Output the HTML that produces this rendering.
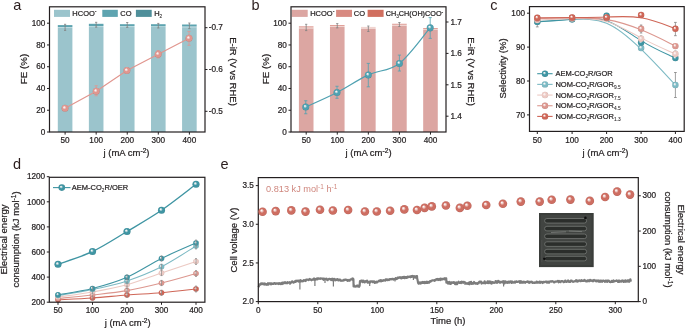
<!DOCTYPE html>
<html><head><meta charset="utf-8"><title>Figure</title>
<style>html,body{margin:0;padding:0;background:#fff;width:685px;height:328px;overflow:hidden}svg{display:block;will-change:transform}text{font-family:"Liberation Sans",sans-serif}</style>
</head><body>
<svg width="685" height="328" viewBox="0 0 685 328" font-family='"Liberation Sans", sans-serif'><defs><radialGradient id="g_td" cx="0.5" cy="0.5" r="0.5" fx="0.36" fy="0.33" fr="0"><stop offset="0" stop-color="#ffffff"/><stop offset="0.1" stop-color="#fbf3f2"/><stop offset="0.28" stop-color="#a8cfd5"/><stop offset="0.5" stop-color="#3f95a3"/><stop offset="0.85" stop-color="#3f95a3"/><stop offset="1" stop-color="#37838f"/></radialGradient><radialGradient id="g_tl" cx="0.5" cy="0.5" r="0.5" fx="0.36" fy="0.33" fr="0"><stop offset="0" stop-color="#ffffff"/><stop offset="0.1" stop-color="#fbf3f2"/><stop offset="0.28" stop-color="#c4dfe4"/><stop offset="0.5" stop-color="#7dbac4"/><stop offset="0.85" stop-color="#7dbac4"/><stop offset="1" stop-color="#6ea3ac"/></radialGradient><radialGradient id="g_pl" cx="0.5" cy="0.5" r="0.5" fx="0.36" fy="0.33" fr="0"><stop offset="0" stop-color="#ffffff"/><stop offset="0.1" stop-color="#fbf3f2"/><stop offset="0.28" stop-color="#f6e6e4"/><stop offset="0.5" stop-color="#ecc9c3"/><stop offset="0.85" stop-color="#ecc9c3"/><stop offset="1" stop-color="#cfb0ab"/></radialGradient><radialGradient id="g_pm" cx="0.5" cy="0.5" r="0.5" fx="0.36" fy="0.33" fr="0"><stop offset="0" stop-color="#ffffff"/><stop offset="0.1" stop-color="#fbf3f2"/><stop offset="0.28" stop-color="#efd0cc"/><stop offset="0.5" stop-color="#dc978f"/><stop offset="0.85" stop-color="#dc978f"/><stop offset="1" stop-color="#c1847d"/></radialGradient><radialGradient id="g_rd" cx="0.5" cy="0.5" r="0.5" fx="0.36" fy="0.33" fr="0"><stop offset="0" stop-color="#ffffff"/><stop offset="0.1" stop-color="#fbf3f2"/><stop offset="0.28" stop-color="#e9bab3"/><stop offset="0.5" stop-color="#cf6657"/><stop offset="0.85" stop-color="#cf6657"/><stop offset="1" stop-color="#b6594c"/></radialGradient><radialGradient id="g_sa" cx="0.5" cy="0.5" r="0.5" fx="0.36" fy="0.33" fr="0"><stop offset="0" stop-color="#ffffff"/><stop offset="0.1" stop-color="#fbf3f2"/><stop offset="0.28" stop-color="#f1cfcc"/><stop offset="0.5" stop-color="#e1968f"/><stop offset="0.85" stop-color="#e1968f"/><stop offset="1" stop-color="#c6847d"/></radialGradient><radialGradient id="g_tb" cx="0.5" cy="0.5" r="0.5" fx="0.36" fy="0.33" fr="0"><stop offset="0" stop-color="#ffffff"/><stop offset="0.1" stop-color="#fbf3f2"/><stop offset="0.28" stop-color="#afd4db"/><stop offset="0.5" stop-color="#4fa1b1"/><stop offset="0.85" stop-color="#4fa1b1"/><stop offset="1" stop-color="#458d9b"/></radialGradient><radialGradient id="g_er" cx="0.5" cy="0.5" r="0.5" fx="0.36" fy="0.33" fr="0"><stop offset="0" stop-color="#ffffff"/><stop offset="0.1" stop-color="#fbf3f2"/><stop offset="0.28" stop-color="#e8bdb8"/><stop offset="0.5" stop-color="#ce6e62"/><stop offset="0.85" stop-color="#ce6e62"/><stop offset="1" stop-color="#b56056"/></radialGradient></defs>
<rect x="57.8" y="27.8" width="14.6" height="104.2" fill="#9bc4cc" />
<rect x="57.8" y="26.9" width="14.6" height="1" fill="#b9d8dd" />
<rect x="57.8" y="25.1" width="14.6" height="1.9" fill="#5ea4b0" />
<rect x="88.87" y="27" width="14.6" height="105" fill="#9bc4cc" />
<rect x="88.87" y="25.9" width="14.6" height="1.2" fill="#b9d8dd" />
<rect x="88.87" y="23.8" width="14.6" height="2.2" fill="#5ea4b0" />
<rect x="119.94" y="27" width="14.6" height="105" fill="#9bc4cc" />
<rect x="119.94" y="25.9" width="14.6" height="1.2" fill="#b9d8dd" />
<rect x="119.94" y="24.2" width="14.6" height="1.8" fill="#5ea4b0" />
<rect x="151.01" y="26.9" width="14.6" height="105.1" fill="#9bc4cc" />
<rect x="151.01" y="26" width="14.6" height="1" fill="#b9d8dd" />
<rect x="151.01" y="24.2" width="14.6" height="1.9" fill="#5ea4b0" />
<rect x="182.08" y="27.2" width="14.6" height="104.8" fill="#9bc4cc" />
<rect x="182.08" y="26.3" width="14.6" height="1" fill="#b9d8dd" />
<rect x="182.08" y="24.5" width="14.6" height="1.9" fill="#5ea4b0" />
<line x1="65.1" y1="24.3" x2="65.1" y2="30.4" stroke="#808080" stroke-width="0.8" />
<line x1="64" y1="24.3" x2="66.2" y2="24.3" stroke="#808080" stroke-width="0.8" />
<line x1="64" y1="30.4" x2="66.2" y2="30.4" stroke="#808080" stroke-width="0.8" />
<line x1="96.17" y1="22.3" x2="96.17" y2="27.2" stroke="#808080" stroke-width="0.8" />
<line x1="95.07" y1="22.3" x2="97.27" y2="22.3" stroke="#808080" stroke-width="0.8" />
<line x1="95.07" y1="27.2" x2="97.27" y2="27.2" stroke="#808080" stroke-width="0.8" />
<line x1="127.24" y1="22.5" x2="127.24" y2="27.4" stroke="#808080" stroke-width="0.8" />
<line x1="126.14" y1="22.5" x2="128.34" y2="22.5" stroke="#808080" stroke-width="0.8" />
<line x1="126.14" y1="27.4" x2="128.34" y2="27.4" stroke="#808080" stroke-width="0.8" />
<line x1="158.31" y1="23.4" x2="158.31" y2="28" stroke="#808080" stroke-width="0.8" />
<line x1="157.21" y1="23.4" x2="159.41" y2="23.4" stroke="#808080" stroke-width="0.8" />
<line x1="157.21" y1="28" x2="159.41" y2="28" stroke="#808080" stroke-width="0.8" />
<line x1="189.38" y1="23" x2="189.38" y2="28.6" stroke="#808080" stroke-width="0.8" />
<line x1="188.28" y1="23" x2="190.48" y2="23" stroke="#808080" stroke-width="0.8" />
<line x1="188.28" y1="28.6" x2="190.48" y2="28.6" stroke="#808080" stroke-width="0.8" />
<rect x="54" y="9.8" width="16" height="7.1" fill="#9bc4cc" />
<text x="72.3" y="16.4" font-size="7.5" text-anchor="start" fill="#231f20" stroke="#231f20" stroke-width="0.22" >HCOO<tspan font-size="5.25" baseline-shift="2.55">-</tspan></text>
<rect x="102.3" y="9.8" width="15.5" height="7.1" fill="#5ea4b0" />
<text x="120.3" y="16.4" font-size="7.5" text-anchor="start" fill="#231f20" stroke="#231f20" stroke-width="0.22" >CO</text>
<rect x="135.9" y="9.8" width="15.8" height="7.1" fill="#4f8f9a" />
<text x="154.2" y="16.4" font-size="7.5" text-anchor="start" fill="#231f20" stroke="#231f20" stroke-width="0.22" >H<tspan font-size="4.80" baseline-shift="-1.95" stroke-width="0.08">2</tspan></text>
<path d="M65,108.25 L96.2,91.25 L126.9,70.5 L158.2,54.25 L189,38.3" fill="none" stroke="#e1968f" stroke-width="1.2" />
<line x1="65" y1="106.5" x2="65" y2="110" stroke="#e1968f" stroke-width="0.8" />
<line x1="63.4" y1="106.5" x2="66.6" y2="106.5" stroke="#e1968f" stroke-width="0.8" />
<line x1="63.4" y1="110" x2="66.6" y2="110" stroke="#e1968f" stroke-width="0.8" />
<line x1="96.2" y1="85.75" x2="96.2" y2="95.75" stroke="#e1968f" stroke-width="0.8" />
<line x1="94.6" y1="85.75" x2="97.8" y2="85.75" stroke="#e1968f" stroke-width="0.8" />
<line x1="94.6" y1="95.75" x2="97.8" y2="95.75" stroke="#e1968f" stroke-width="0.8" />
<line x1="126.9" y1="68.8" x2="126.9" y2="72.2" stroke="#e1968f" stroke-width="0.8" />
<line x1="125.3" y1="68.8" x2="128.5" y2="68.8" stroke="#e1968f" stroke-width="0.8" />
<line x1="125.3" y1="72.2" x2="128.5" y2="72.2" stroke="#e1968f" stroke-width="0.8" />
<line x1="158.2" y1="50.6" x2="158.2" y2="57.9" stroke="#e1968f" stroke-width="0.8" />
<line x1="156.6" y1="50.6" x2="159.8" y2="50.6" stroke="#e1968f" stroke-width="0.8" />
<line x1="156.6" y1="57.9" x2="159.8" y2="57.9" stroke="#e1968f" stroke-width="0.8" />
<line x1="189" y1="31.4" x2="189" y2="45.3" stroke="#e1968f" stroke-width="0.8" />
<line x1="187.4" y1="31.4" x2="190.6" y2="31.4" stroke="#e1968f" stroke-width="0.8" />
<line x1="187.4" y1="45.3" x2="190.6" y2="45.3" stroke="#e1968f" stroke-width="0.8" />
<circle cx="65" cy="108.25" r="3.5" fill="url(#g_sa)"/>
<circle cx="96.2" cy="91.25" r="3.5" fill="url(#g_sa)"/>
<circle cx="126.9" cy="70.5" r="3.5" fill="url(#g_sa)"/>
<circle cx="158.2" cy="54.25" r="3.5" fill="url(#g_sa)"/>
<circle cx="189" cy="38.3" r="3.5" fill="url(#g_sa)"/>
<rect x="49.5" y="6.8" width="155.5" height="125.2" fill="none" stroke="#231f20" stroke-width="1.2"/>
<line x1="47" y1="132" x2="49.5" y2="132" stroke="#231f20" stroke-width="1" />
<text x="45.3" y="134.7" font-size="8.2" text-anchor="end" fill="#231f20" stroke="#231f20" stroke-width="0.22" >0</text>
<line x1="47" y1="110.24" x2="49.5" y2="110.24" stroke="#231f20" stroke-width="1" />
<text x="45.3" y="112.94" font-size="8.2" text-anchor="end" fill="#231f20" stroke="#231f20" stroke-width="0.22" >20</text>
<line x1="47" y1="88.48" x2="49.5" y2="88.48" stroke="#231f20" stroke-width="1" />
<text x="45.3" y="91.18" font-size="8.2" text-anchor="end" fill="#231f20" stroke="#231f20" stroke-width="0.22" >40</text>
<line x1="47" y1="66.72" x2="49.5" y2="66.72" stroke="#231f20" stroke-width="1" />
<text x="45.3" y="69.42" font-size="8.2" text-anchor="end" fill="#231f20" stroke="#231f20" stroke-width="0.22" >60</text>
<line x1="47" y1="44.96" x2="49.5" y2="44.96" stroke="#231f20" stroke-width="1" />
<text x="45.3" y="47.66" font-size="8.2" text-anchor="end" fill="#231f20" stroke="#231f20" stroke-width="0.22" >80</text>
<line x1="47" y1="23.2" x2="49.5" y2="23.2" stroke="#231f20" stroke-width="1" />
<text x="45.3" y="25.9" font-size="8.2" text-anchor="end" fill="#231f20" stroke="#231f20" stroke-width="0.22" >100</text>
<line x1="205" y1="111.3" x2="207.5" y2="111.3" stroke="#231f20" stroke-width="1" />
<text x="208.8" y="114" font-size="8.2" text-anchor="start" fill="#231f20" stroke="#231f20" stroke-width="0.22" >-0.5</text>
<line x1="205" y1="69.5" x2="207.5" y2="69.5" stroke="#231f20" stroke-width="1" />
<text x="208.8" y="72.2" font-size="8.2" text-anchor="start" fill="#231f20" stroke="#231f20" stroke-width="0.22" >-0.6</text>
<line x1="205" y1="27.7" x2="207.5" y2="27.7" stroke="#231f20" stroke-width="1" />
<text x="208.8" y="30.4" font-size="8.2" text-anchor="start" fill="#231f20" stroke="#231f20" stroke-width="0.22" >-0.7</text>
<line x1="65.1" y1="132" x2="65.1" y2="134.6" stroke="#231f20" stroke-width="1" />
<text x="65.1" y="142.8" font-size="8.2" text-anchor="middle" fill="#231f20" stroke="#231f20" stroke-width="0.22" >50</text>
<line x1="96.17" y1="132" x2="96.17" y2="134.6" stroke="#231f20" stroke-width="1" />
<text x="96.17" y="142.8" font-size="8.2" text-anchor="middle" fill="#231f20" stroke="#231f20" stroke-width="0.22" >100</text>
<line x1="127.24" y1="132" x2="127.24" y2="134.6" stroke="#231f20" stroke-width="1" />
<text x="127.24" y="142.8" font-size="8.2" text-anchor="middle" fill="#231f20" stroke="#231f20" stroke-width="0.22" >200</text>
<line x1="158.31" y1="132" x2="158.31" y2="134.6" stroke="#231f20" stroke-width="1" />
<text x="158.31" y="142.8" font-size="8.2" text-anchor="middle" fill="#231f20" stroke="#231f20" stroke-width="0.22" >300</text>
<line x1="189.38" y1="132" x2="189.38" y2="134.6" stroke="#231f20" stroke-width="1" />
<text x="189.38" y="142.8" font-size="8.2" text-anchor="middle" fill="#231f20" stroke="#231f20" stroke-width="0.22" >400</text>
<text x="126.5" y="155.5" font-size="9.5" text-anchor="middle" fill="#231f20" stroke="#231f20" stroke-width="0.22" >j (mA cm<tspan font-size="6.65" baseline-shift="3.23">-2</tspan>)</text>
<text x="26.6" y="69" font-size="9.8" text-anchor="middle" fill="#231f20" stroke="#231f20" stroke-width="0.22" transform="rotate(-90 26.6 69)" >FE (%)</text>
<text x="229.8" y="71.5" font-size="9.5" text-anchor="middle" fill="#231f20" stroke="#231f20" stroke-width="0.22" transform="rotate(90 229.8 71.5)" >E-iR (V vs RHE)</text>
<text x="13.2" y="10" font-size="14.5" text-anchor="start" fill="#2a1d1d" stroke="#2a1d1d" stroke-width="0" >a</text>
<rect x="298.9" y="28.3" width="14.6" height="103.7" fill="#dca6a2" />
<rect x="298.9" y="27.2" width="14.6" height="1.2" fill="#f0d4d0" />
<rect x="298.9" y="26.4" width="14.6" height="0.9" fill="#d98a81" />
<rect x="329.97" y="26.9" width="14.6" height="105.1" fill="#dca6a2" />
<rect x="329.97" y="25.9" width="14.6" height="1.1" fill="#f0d4d0" />
<rect x="329.97" y="25.2" width="14.6" height="0.8" fill="#d98a81" />
<rect x="361.04" y="28.9" width="14.6" height="103.1" fill="#dca6a2" />
<rect x="361.04" y="26.9" width="14.6" height="2.1" fill="#f0d4d0" />
<rect x="392.11" y="25.9" width="14.6" height="106.1" fill="#dca6a2" />
<rect x="392.11" y="24.5" width="14.6" height="1.5" fill="#f0d4d0" />
<rect x="392.11" y="23.8" width="14.6" height="0.8" fill="#d98a81" />
<rect x="423.18" y="29.9" width="14.6" height="102.1" fill="#dca6a2" />
<rect x="423.18" y="28.9" width="14.6" height="1.1" fill="#f0d4d0" />
<rect x="423.18" y="28.2" width="14.6" height="0.8" fill="#d98a81" />
<line x1="306.2" y1="24.3" x2="306.2" y2="30.6" stroke="#808080" stroke-width="0.8" />
<line x1="305.1" y1="24.3" x2="307.3" y2="24.3" stroke="#808080" stroke-width="0.8" />
<line x1="305.1" y1="30.6" x2="307.3" y2="30.6" stroke="#808080" stroke-width="0.8" />
<line x1="337.27" y1="23.6" x2="337.27" y2="27.9" stroke="#808080" stroke-width="0.8" />
<line x1="336.17" y1="23.6" x2="338.37" y2="23.6" stroke="#808080" stroke-width="0.8" />
<line x1="336.17" y1="27.9" x2="338.37" y2="27.9" stroke="#808080" stroke-width="0.8" />
<line x1="368.34" y1="26" x2="368.34" y2="31.5" stroke="#808080" stroke-width="0.8" />
<line x1="367.24" y1="26" x2="369.44" y2="26" stroke="#808080" stroke-width="0.8" />
<line x1="367.24" y1="31.5" x2="369.44" y2="31.5" stroke="#808080" stroke-width="0.8" />
<line x1="399.41" y1="22.5" x2="399.41" y2="26.5" stroke="#808080" stroke-width="0.8" />
<line x1="398.31" y1="22.5" x2="400.51" y2="22.5" stroke="#808080" stroke-width="0.8" />
<line x1="398.31" y1="26.5" x2="400.51" y2="26.5" stroke="#808080" stroke-width="0.8" />
<line x1="430.48" y1="27" x2="430.48" y2="31" stroke="#808080" stroke-width="0.8" />
<line x1="429.38" y1="27" x2="431.58" y2="27" stroke="#808080" stroke-width="0.8" />
<line x1="429.38" y1="31" x2="431.58" y2="31" stroke="#808080" stroke-width="0.8" />
<rect x="291.8" y="9.8" width="15.9" height="7.1" fill="#dca6a2" />
<text x="310.2" y="16.4" font-size="7.5" text-anchor="start" fill="#231f20" stroke="#231f20" stroke-width="0.22" >HCOO<tspan font-size="5.25" baseline-shift="2.55">-</tspan></text>
<rect x="336.1" y="9.8" width="15.9" height="7.1" fill="#d88a81" />
<text x="353.8" y="16.4" font-size="7.5" text-anchor="start" fill="#231f20" stroke="#231f20" stroke-width="0.22" >CO</text>
<rect x="367.6" y="9.8" width="16" height="7.1" fill="#d16f5f" />
<text x="385.8" y="16.4" font-size="7.25" text-anchor="start" fill="#231f20" stroke="#231f20" stroke-width="0.22" >CH<tspan font-size="4.64" baseline-shift="-1.89" stroke-width="0.08">3</tspan>CH(OH)COO<tspan font-size="5.07" baseline-shift="2.47">-</tspan></text>
<path d="M305.75,107 C310.96,104.58 326.57,97.85 337,92.5 C347.43,87.15 357.9,79.75 368.3,74.9 C378.7,70.05 389.08,71.27 399.4,63.4 C409.72,55.53 425.07,33.65 430.2,27.7" fill="none" stroke="#4fa1b1" stroke-width="1.2" />
<line x1="305.75" y1="100.75" x2="305.75" y2="113.75" stroke="#4fa1b1" stroke-width="0.8" />
<line x1="304.15" y1="100.75" x2="307.35" y2="100.75" stroke="#4fa1b1" stroke-width="0.8" />
<line x1="304.15" y1="113.75" x2="307.35" y2="113.75" stroke="#4fa1b1" stroke-width="0.8" />
<line x1="337" y1="86.25" x2="337" y2="98.25" stroke="#4fa1b1" stroke-width="0.8" />
<line x1="335.4" y1="86.25" x2="338.6" y2="86.25" stroke="#4fa1b1" stroke-width="0.8" />
<line x1="335.4" y1="98.25" x2="338.6" y2="98.25" stroke="#4fa1b1" stroke-width="0.8" />
<line x1="368.3" y1="63.4" x2="368.3" y2="86.8" stroke="#4fa1b1" stroke-width="0.8" />
<line x1="366.7" y1="63.4" x2="369.9" y2="63.4" stroke="#4fa1b1" stroke-width="0.8" />
<line x1="366.7" y1="86.8" x2="369.9" y2="86.8" stroke="#4fa1b1" stroke-width="0.8" />
<line x1="399.4" y1="55.1" x2="399.4" y2="71" stroke="#4fa1b1" stroke-width="0.8" />
<line x1="397.8" y1="55.1" x2="401" y2="55.1" stroke="#4fa1b1" stroke-width="0.8" />
<line x1="397.8" y1="71" x2="401" y2="71" stroke="#4fa1b1" stroke-width="0.8" />
<line x1="430.2" y1="17.6" x2="430.2" y2="38.4" stroke="#4fa1b1" stroke-width="0.8" />
<line x1="428.6" y1="17.6" x2="431.8" y2="17.6" stroke="#4fa1b1" stroke-width="0.8" />
<line x1="428.6" y1="38.4" x2="431.8" y2="38.4" stroke="#4fa1b1" stroke-width="0.8" />
<circle cx="305.75" cy="107" r="3.5" fill="url(#g_tb)"/>
<circle cx="337" cy="92.5" r="3.5" fill="url(#g_tb)"/>
<circle cx="368.3" cy="74.9" r="3.5" fill="url(#g_tb)"/>
<circle cx="399.4" cy="63.4" r="3.5" fill="url(#g_tb)"/>
<circle cx="430.2" cy="27.7" r="3.5" fill="url(#g_tb)"/>
<rect x="291" y="6.8" width="155" height="125.2" fill="none" stroke="#231f20" stroke-width="1.2"/>
<line x1="288.5" y1="132" x2="291" y2="132" stroke="#231f20" stroke-width="1" />
<text x="286.8" y="134.7" font-size="8.2" text-anchor="end" fill="#231f20" stroke="#231f20" stroke-width="0.22" >0</text>
<line x1="288.5" y1="110.24" x2="291" y2="110.24" stroke="#231f20" stroke-width="1" />
<text x="286.8" y="112.94" font-size="8.2" text-anchor="end" fill="#231f20" stroke="#231f20" stroke-width="0.22" >20</text>
<line x1="288.5" y1="88.48" x2="291" y2="88.48" stroke="#231f20" stroke-width="1" />
<text x="286.8" y="91.18" font-size="8.2" text-anchor="end" fill="#231f20" stroke="#231f20" stroke-width="0.22" >40</text>
<line x1="288.5" y1="66.72" x2="291" y2="66.72" stroke="#231f20" stroke-width="1" />
<text x="286.8" y="69.42" font-size="8.2" text-anchor="end" fill="#231f20" stroke="#231f20" stroke-width="0.22" >60</text>
<line x1="288.5" y1="44.96" x2="291" y2="44.96" stroke="#231f20" stroke-width="1" />
<text x="286.8" y="47.66" font-size="8.2" text-anchor="end" fill="#231f20" stroke="#231f20" stroke-width="0.22" >80</text>
<line x1="288.5" y1="23.2" x2="291" y2="23.2" stroke="#231f20" stroke-width="1" />
<text x="286.8" y="25.9" font-size="8.2" text-anchor="end" fill="#231f20" stroke="#231f20" stroke-width="0.22" >100</text>
<line x1="446" y1="116.2" x2="448.5" y2="116.2" stroke="#231f20" stroke-width="1" />
<text x="450.4" y="118.9" font-size="8.2" text-anchor="start" fill="#231f20" stroke="#231f20" stroke-width="0.22" >1.4</text>
<line x1="446" y1="84.8" x2="448.5" y2="84.8" stroke="#231f20" stroke-width="1" />
<text x="450.4" y="87.5" font-size="8.2" text-anchor="start" fill="#231f20" stroke="#231f20" stroke-width="0.22" >1.5</text>
<line x1="446" y1="53.4" x2="448.5" y2="53.4" stroke="#231f20" stroke-width="1" />
<text x="450.4" y="56.1" font-size="8.2" text-anchor="start" fill="#231f20" stroke="#231f20" stroke-width="0.22" >1.6</text>
<line x1="446" y1="22" x2="448.5" y2="22" stroke="#231f20" stroke-width="1" />
<text x="450.4" y="24.7" font-size="8.2" text-anchor="start" fill="#231f20" stroke="#231f20" stroke-width="0.22" >1.7</text>
<line x1="306.2" y1="132" x2="306.2" y2="134.6" stroke="#231f20" stroke-width="1" />
<text x="306.2" y="142.8" font-size="8.2" text-anchor="middle" fill="#231f20" stroke="#231f20" stroke-width="0.22" >50</text>
<line x1="337.27" y1="132" x2="337.27" y2="134.6" stroke="#231f20" stroke-width="1" />
<text x="337.27" y="142.8" font-size="8.2" text-anchor="middle" fill="#231f20" stroke="#231f20" stroke-width="0.22" >100</text>
<line x1="368.34" y1="132" x2="368.34" y2="134.6" stroke="#231f20" stroke-width="1" />
<text x="368.34" y="142.8" font-size="8.2" text-anchor="middle" fill="#231f20" stroke="#231f20" stroke-width="0.22" >200</text>
<line x1="399.41" y1="132" x2="399.41" y2="134.6" stroke="#231f20" stroke-width="1" />
<text x="399.41" y="142.8" font-size="8.2" text-anchor="middle" fill="#231f20" stroke="#231f20" stroke-width="0.22" >300</text>
<line x1="430.48" y1="132" x2="430.48" y2="134.6" stroke="#231f20" stroke-width="1" />
<text x="430.48" y="142.8" font-size="8.2" text-anchor="middle" fill="#231f20" stroke="#231f20" stroke-width="0.22" >400</text>
<text x="368.6" y="155.5" font-size="9.5" text-anchor="middle" fill="#231f20" stroke="#231f20" stroke-width="0.22" >j (mA cm<tspan font-size="6.65" baseline-shift="3.23">-2</tspan>)</text>
<text x="268.8" y="69" font-size="9.8" text-anchor="middle" fill="#231f20" stroke="#231f20" stroke-width="0.22" transform="rotate(-90 268.8 69)" >FE (%)</text>
<text x="467.8" y="71.5" font-size="9.5" text-anchor="middle" fill="#231f20" stroke="#231f20" stroke-width="0.22" transform="rotate(90 467.8 71.5)" >E-iR (V vs RHE)</text>
<text x="251.6" y="10" font-size="14.5" text-anchor="start" fill="#2a1d1d" stroke="#2a1d1d" stroke-width="0" >b</text>
<path d="M537.3,21.8 C537.3,21.8 537.3,21.8 543.1,21.38 C548.9,20.97 560.5,20.13 572.05,19.5 C583.6,18.87 595.1,18.43 606.6,23.22 C618.1,28 629.6,38 641.07,49.17 C652.53,60.33 663.97,72.67 669.68,78.83 C675.4,85 675.4,85 675.4,85" fill="none" stroke="#7dbac4" stroke-width="1.1" />
<path d="M537.3,21.8 C537.3,21.8 537.3,21.8 543.1,21.38 C548.9,20.97 560.5,20.13 572.05,19.1 C583.6,18.07 595.1,16.83 606.6,20.7 C618.1,24.57 629.6,33.53 641.07,40.6 C652.53,47.67 663.97,52.83 669.68,55.42 C675.4,58 675.4,58 675.4,58" fill="none" stroke="#3f95a3" stroke-width="1.1" />
<path d="M537.3,20 C537.3,20 537.3,20 543.1,19.75 C548.9,19.5 560.5,19 572.05,18.67 C583.6,18.33 595.1,18.17 606.6,21.55 C618.1,24.93 629.6,31.87 641.07,37.87 C652.53,43.87 663.97,48.93 669.68,51.47 C675.4,54 675.4,54 675.4,54" fill="none" stroke="#ecc9c3" stroke-width="1.1" />
<path d="M537.3,18.5 C537.3,18.5 537.3,18.5 543.1,18.38 C548.9,18.27 560.5,18.03 572.05,17.92 C583.6,17.8 595.1,17.8 606.6,19.63 C618.1,21.47 629.6,25.13 641.07,29.85 C652.53,34.57 663.97,40.33 669.68,43.22 C675.4,46.1 675.4,46.1 675.4,46.1" fill="none" stroke="#dc978f" stroke-width="1.1" />
<path d="M537.3,17.8 C537.3,17.8 537.3,17.8 543.1,17.73 C548.9,17.67 560.5,17.53 572.05,17.47 C583.6,17.4 595.1,17.4 606.6,17 C618.1,16.6 629.6,15.8 641.07,17.7 C652.53,19.6 663.97,24.2 669.68,26.5 C675.4,28.8 675.4,28.8 675.4,28.8" fill="none" stroke="#cf6657" stroke-width="1.1" />
<line x1="537.3" y1="16.8" x2="537.3" y2="26.9" stroke="#777" stroke-width="0.7" />
<line x1="535.9" y1="16.8" x2="538.7" y2="16.8" stroke="#777" stroke-width="0.7" />
<line x1="535.9" y1="26.9" x2="538.7" y2="26.9" stroke="#777" stroke-width="0.7" />
<line x1="675.4" y1="72.5" x2="675.4" y2="97.5" stroke="#777" stroke-width="0.7" />
<line x1="674" y1="72.5" x2="676.8" y2="72.5" stroke="#777" stroke-width="0.7" />
<line x1="674" y1="97.5" x2="676.8" y2="97.5" stroke="#777" stroke-width="0.7" />
<line x1="675.4" y1="22.4" x2="675.4" y2="35.7" stroke="#777" stroke-width="0.7" />
<line x1="674" y1="22.4" x2="676.8" y2="22.4" stroke="#777" stroke-width="0.7" />
<line x1="674" y1="35.7" x2="676.8" y2="35.7" stroke="#777" stroke-width="0.7" />
<line x1="641.1" y1="25" x2="641.1" y2="33" stroke="#777" stroke-width="0.7" />
<line x1="639.9" y1="25" x2="642.3" y2="25" stroke="#777" stroke-width="0.7" />
<line x1="639.9" y1="33" x2="642.3" y2="33" stroke="#777" stroke-width="0.7" />
<line x1="641.1" y1="36" x2="641.1" y2="45" stroke="#777" stroke-width="0.7" />
<line x1="639.9" y1="36" x2="642.3" y2="36" stroke="#777" stroke-width="0.7" />
<line x1="639.9" y1="45" x2="642.3" y2="45" stroke="#777" stroke-width="0.7" />
<line x1="675.4" y1="51" x2="675.4" y2="57" stroke="#777" stroke-width="0.7" />
<line x1="674.2" y1="51" x2="676.6" y2="51" stroke="#777" stroke-width="0.7" />
<line x1="674.2" y1="57" x2="676.6" y2="57" stroke="#777" stroke-width="0.7" />
<circle cx="537.3" cy="21.8" r="3.2" fill="url(#g_tl)"/>
<circle cx="572.1" cy="19.3" r="3.2" fill="url(#g_tl)"/>
<circle cx="606.6" cy="18" r="3.2" fill="url(#g_tl)"/>
<circle cx="641.1" cy="48" r="3.2" fill="url(#g_tl)"/>
<circle cx="675.4" cy="85" r="3.2" fill="url(#g_tl)"/>
<circle cx="537.3" cy="21.8" r="3.2" fill="url(#g_td)"/>
<circle cx="572.1" cy="19.3" r="3.2" fill="url(#g_td)"/>
<circle cx="606.6" cy="15.6" r="3.2" fill="url(#g_td)"/>
<circle cx="641.1" cy="42.5" r="3.2" fill="url(#g_td)"/>
<circle cx="675.4" cy="58" r="3.2" fill="url(#g_td)"/>
<circle cx="537.3" cy="20" r="3.2" fill="url(#g_pl)"/>
<circle cx="572.1" cy="18.5" r="3.2" fill="url(#g_pl)"/>
<circle cx="606.6" cy="18" r="3.2" fill="url(#g_pl)"/>
<circle cx="641.1" cy="38.8" r="3.2" fill="url(#g_pl)"/>
<circle cx="675.4" cy="54" r="3.2" fill="url(#g_pl)"/>
<circle cx="537.3" cy="18.5" r="3.2" fill="url(#g_pm)"/>
<circle cx="572.1" cy="17.8" r="3.2" fill="url(#g_pm)"/>
<circle cx="606.6" cy="17.8" r="3.2" fill="url(#g_pm)"/>
<circle cx="641.1" cy="28.8" r="3.2" fill="url(#g_pm)"/>
<circle cx="675.4" cy="46.1" r="3.2" fill="url(#g_pm)"/>
<circle cx="537.3" cy="17.8" r="3.2" fill="url(#g_rd)"/>
<circle cx="572.1" cy="17.4" r="3.2" fill="url(#g_rd)"/>
<circle cx="606.6" cy="17.4" r="3.2" fill="url(#g_rd)"/>
<circle cx="641.1" cy="15" r="3.2" fill="url(#g_rd)"/>
<circle cx="675.4" cy="28.8" r="3.2" fill="url(#g_rd)"/>
<rect x="529.5" y="6.6" width="154.7" height="124.8" fill="none" stroke="#231f20" stroke-width="1.2"/>
<line x1="527" y1="114.9" x2="529.5" y2="114.9" stroke="#231f20" stroke-width="1" />
<text x="525" y="117.6" font-size="8.2" text-anchor="end" fill="#231f20" stroke="#231f20" stroke-width="0.22" >70</text>
<line x1="527" y1="81" x2="529.5" y2="81" stroke="#231f20" stroke-width="1" />
<text x="525" y="83.7" font-size="8.2" text-anchor="end" fill="#231f20" stroke="#231f20" stroke-width="0.22" >80</text>
<line x1="527" y1="47.1" x2="529.5" y2="47.1" stroke="#231f20" stroke-width="1" />
<text x="525" y="49.8" font-size="8.2" text-anchor="end" fill="#231f20" stroke="#231f20" stroke-width="0.22" >90</text>
<line x1="527" y1="13.2" x2="529.5" y2="13.2" stroke="#231f20" stroke-width="1" />
<text x="525" y="15.9" font-size="8.2" text-anchor="end" fill="#231f20" stroke="#231f20" stroke-width="0.22" >100</text>
<line x1="537.3" y1="131.4" x2="537.3" y2="134" stroke="#231f20" stroke-width="1" />
<text x="537.3" y="142.5" font-size="8.2" text-anchor="middle" fill="#231f20" stroke="#231f20" stroke-width="0.22" >50</text>
<line x1="572.1" y1="131.4" x2="572.1" y2="134" stroke="#231f20" stroke-width="1" />
<text x="572.1" y="142.5" font-size="8.2" text-anchor="middle" fill="#231f20" stroke="#231f20" stroke-width="0.22" >100</text>
<line x1="606.6" y1="131.4" x2="606.6" y2="134" stroke="#231f20" stroke-width="1" />
<text x="606.6" y="142.5" font-size="8.2" text-anchor="middle" fill="#231f20" stroke="#231f20" stroke-width="0.22" >200</text>
<line x1="641.1" y1="131.4" x2="641.1" y2="134" stroke="#231f20" stroke-width="1" />
<text x="641.1" y="142.5" font-size="8.2" text-anchor="middle" fill="#231f20" stroke="#231f20" stroke-width="0.22" >300</text>
<line x1="675.4" y1="131.4" x2="675.4" y2="134" stroke="#231f20" stroke-width="1" />
<text x="675.4" y="142.5" font-size="8.2" text-anchor="middle" fill="#231f20" stroke="#231f20" stroke-width="0.22" >400</text>
<text x="605.5" y="155.5" font-size="9.5" text-anchor="middle" fill="#231f20" stroke="#231f20" stroke-width="0.22" >j (mA cm<tspan font-size="6.65" baseline-shift="3.23">-2</tspan>)</text>
<text x="506.3" y="68.5" font-size="9.5" text-anchor="middle" fill="#231f20" stroke="#231f20" stroke-width="0.22" transform="rotate(-90 506.3 68.5)" >Selectivity (%)</text>
<text x="490.3" y="10" font-size="14.5" text-anchor="start" fill="#2a1d1d" stroke="#2a1d1d" stroke-width="0" >c</text>
<line x1="537.2" y1="73.7" x2="552.6" y2="73.7" stroke="#3f95a3" stroke-width="1.1" />
<circle cx="545" cy="73.7" r="3.2" fill="url(#g_td)"/>
<text x="555.4" y="76.4" font-size="7.5" text-anchor="start" fill="#231f20" stroke="#231f20" stroke-width="0.22" >AEM-CO<tspan font-size="4.80" baseline-shift="-1.95" stroke-width="0.08">2</tspan>R/GOR</text>
<line x1="537.2" y1="84.38" x2="552.6" y2="84.38" stroke="#7dbac4" stroke-width="1.1" />
<circle cx="545" cy="84.38" r="3.2" fill="url(#g_tl)"/>
<text x="555.4" y="87.08" font-size="7.5" text-anchor="start" fill="#231f20" stroke="#231f20" stroke-width="0.22" >NOM-CO<tspan font-size="4.80" baseline-shift="-1.95" stroke-width="0.08">2</tspan>R/GOR<tspan font-size="4.80" baseline-shift="-1.95" stroke-width="0.08">9.5</tspan></text>
<line x1="537.2" y1="95.06" x2="552.6" y2="95.06" stroke="#ecc9c3" stroke-width="1.1" />
<circle cx="545" cy="95.06" r="3.2" fill="url(#g_pl)"/>
<text x="555.4" y="97.76" font-size="7.5" text-anchor="start" fill="#231f20" stroke="#231f20" stroke-width="0.22" >NOM-CO<tspan font-size="4.80" baseline-shift="-1.95" stroke-width="0.08">2</tspan>R/GOR<tspan font-size="4.80" baseline-shift="-1.95" stroke-width="0.08">7.5</tspan></text>
<line x1="537.2" y1="105.74" x2="552.6" y2="105.74" stroke="#dc978f" stroke-width="1.1" />
<circle cx="545" cy="105.74" r="3.2" fill="url(#g_pm)"/>
<text x="555.4" y="108.44" font-size="7.5" text-anchor="start" fill="#231f20" stroke="#231f20" stroke-width="0.22" >NOM-CO<tspan font-size="4.80" baseline-shift="-1.95" stroke-width="0.08">2</tspan>R/GOR<tspan font-size="4.80" baseline-shift="-1.95" stroke-width="0.08">4.5</tspan></text>
<line x1="537.2" y1="116.42" x2="552.6" y2="116.42" stroke="#cf6657" stroke-width="1.1" />
<circle cx="545" cy="116.42" r="3.2" fill="url(#g_rd)"/>
<text x="555.4" y="119.12" font-size="7.5" text-anchor="start" fill="#231f20" stroke="#231f20" stroke-width="0.22" >NOM-CO<tspan font-size="4.80" baseline-shift="-1.95" stroke-width="0.08">2</tspan>R/GOR<tspan font-size="4.80" baseline-shift="-1.95" stroke-width="0.08">1.3</tspan></text>
<path d="M58,299.75 C63.75,299.46 81,298.79 92.5,298 C104,297.21 115.5,295.88 127,295 C138.5,294.12 150,293.75 161.5,292.75 C173,291.75 190.25,289.62 196,289" fill="none" stroke="#cf6657" stroke-width="1.1" />
<path d="M58,298.5 C63.75,297.92 81,296.32 92.5,295 C104,293.68 115.5,292.6 127,290.6 C138.5,288.6 150,285.85 161.5,283 C173,280.15 190.25,275.08 196,273.5" fill="none" stroke="#dc978f" stroke-width="1.1" />
<path d="M58,297 C63.75,296.17 81,294.03 92.5,292 C104,289.97 115.5,287.97 127,284.8 C138.5,281.63 150,276.88 161.5,273 C173,269.12 190.25,263.42 196,261.5" fill="none" stroke="#ecc9c3" stroke-width="1.1" />
<path d="M58,295.5 C63.75,294.5 81,291.93 92.5,289.5 C104,287.07 115.5,284.69 127,280.9 C138.5,277.11 150,272.57 161.5,266.75 C173,260.93 190.25,249.46 196,246" fill="none" stroke="#7dbac4" stroke-width="1.1" />
<path d="M58,294.75 C63.75,293.71 81,291.41 92.5,288.5 C104,285.59 115.5,282.3 127,277.3 C138.5,272.3 150,264.22 161.5,258.5 C173,252.78 190.25,245.58 196,243" fill="none" stroke="#3f95a3" stroke-width="1.1" />
<path d="M58,264.3 C63.75,262.17 81,256.97 92.5,251.5 C104,246.03 115.5,238.38 127,231.5 C138.5,224.62 150,218.12 161.5,210.25 C173,202.38 190.25,188.62 196,184.3" fill="none" stroke="#3f95a3" stroke-width="1.4" />
<circle cx="58" cy="299.75" r="2.8" fill="url(#g_rd)"/>
<circle cx="92.5" cy="298" r="2.8" fill="url(#g_rd)"/>
<circle cx="127" cy="295" r="2.8" fill="url(#g_rd)"/>
<circle cx="161.5" cy="292.75" r="2.8" fill="url(#g_rd)"/>
<circle cx="196" cy="289" r="2.8" fill="url(#g_rd)"/>
<line x1="92.5" y1="296.4" x2="92.5" y2="299.6" stroke="#888" stroke-width="0.7" />
<line x1="91.6" y1="296.4" x2="93.4" y2="296.4" stroke="#888" stroke-width="0.7" />
<line x1="91.6" y1="299.6" x2="93.4" y2="299.6" stroke="#888" stroke-width="0.7" />
<line x1="127" y1="292.8" x2="127" y2="297.2" stroke="#888" stroke-width="0.7" />
<line x1="126.1" y1="292.8" x2="127.9" y2="292.8" stroke="#888" stroke-width="0.7" />
<line x1="126.1" y1="297.2" x2="127.9" y2="297.2" stroke="#888" stroke-width="0.7" />
<line x1="161.5" y1="290.15" x2="161.5" y2="295.35" stroke="#888" stroke-width="0.7" />
<line x1="160.6" y1="290.15" x2="162.4" y2="290.15" stroke="#888" stroke-width="0.7" />
<line x1="160.6" y1="295.35" x2="162.4" y2="295.35" stroke="#888" stroke-width="0.7" />
<line x1="196" y1="286" x2="196" y2="292" stroke="#888" stroke-width="0.7" />
<line x1="195.1" y1="286" x2="196.9" y2="286" stroke="#888" stroke-width="0.7" />
<line x1="195.1" y1="292" x2="196.9" y2="292" stroke="#888" stroke-width="0.7" />
<circle cx="58" cy="298.5" r="2.8" fill="url(#g_pm)"/>
<circle cx="92.5" cy="295" r="2.8" fill="url(#g_pm)"/>
<circle cx="127" cy="290.6" r="2.8" fill="url(#g_pm)"/>
<circle cx="161.5" cy="283" r="2.8" fill="url(#g_pm)"/>
<circle cx="196" cy="273.5" r="2.8" fill="url(#g_pm)"/>
<line x1="92.5" y1="293.4" x2="92.5" y2="296.6" stroke="#888" stroke-width="0.7" />
<line x1="91.6" y1="293.4" x2="93.4" y2="293.4" stroke="#888" stroke-width="0.7" />
<line x1="91.6" y1="296.6" x2="93.4" y2="296.6" stroke="#888" stroke-width="0.7" />
<line x1="127" y1="288.4" x2="127" y2="292.8" stroke="#888" stroke-width="0.7" />
<line x1="126.1" y1="288.4" x2="127.9" y2="288.4" stroke="#888" stroke-width="0.7" />
<line x1="126.1" y1="292.8" x2="127.9" y2="292.8" stroke="#888" stroke-width="0.7" />
<line x1="161.5" y1="280.4" x2="161.5" y2="285.6" stroke="#888" stroke-width="0.7" />
<line x1="160.6" y1="280.4" x2="162.4" y2="280.4" stroke="#888" stroke-width="0.7" />
<line x1="160.6" y1="285.6" x2="162.4" y2="285.6" stroke="#888" stroke-width="0.7" />
<line x1="196" y1="270.5" x2="196" y2="276.5" stroke="#888" stroke-width="0.7" />
<line x1="195.1" y1="270.5" x2="196.9" y2="270.5" stroke="#888" stroke-width="0.7" />
<line x1="195.1" y1="276.5" x2="196.9" y2="276.5" stroke="#888" stroke-width="0.7" />
<circle cx="58" cy="297" r="2.8" fill="url(#g_pl)"/>
<circle cx="92.5" cy="292" r="2.8" fill="url(#g_pl)"/>
<circle cx="127" cy="284.8" r="2.8" fill="url(#g_pl)"/>
<circle cx="161.5" cy="273" r="2.8" fill="url(#g_pl)"/>
<circle cx="196" cy="261.5" r="2.8" fill="url(#g_pl)"/>
<line x1="92.5" y1="290.4" x2="92.5" y2="293.6" stroke="#888" stroke-width="0.7" />
<line x1="91.6" y1="290.4" x2="93.4" y2="290.4" stroke="#888" stroke-width="0.7" />
<line x1="91.6" y1="293.6" x2="93.4" y2="293.6" stroke="#888" stroke-width="0.7" />
<line x1="127" y1="282.6" x2="127" y2="287" stroke="#888" stroke-width="0.7" />
<line x1="126.1" y1="282.6" x2="127.9" y2="282.6" stroke="#888" stroke-width="0.7" />
<line x1="126.1" y1="287" x2="127.9" y2="287" stroke="#888" stroke-width="0.7" />
<line x1="161.5" y1="270.4" x2="161.5" y2="275.6" stroke="#888" stroke-width="0.7" />
<line x1="160.6" y1="270.4" x2="162.4" y2="270.4" stroke="#888" stroke-width="0.7" />
<line x1="160.6" y1="275.6" x2="162.4" y2="275.6" stroke="#888" stroke-width="0.7" />
<line x1="196" y1="258.5" x2="196" y2="264.5" stroke="#888" stroke-width="0.7" />
<line x1="195.1" y1="258.5" x2="196.9" y2="258.5" stroke="#888" stroke-width="0.7" />
<line x1="195.1" y1="264.5" x2="196.9" y2="264.5" stroke="#888" stroke-width="0.7" />
<circle cx="58" cy="295.5" r="2.8" fill="url(#g_tl)"/>
<circle cx="92.5" cy="289.5" r="2.8" fill="url(#g_tl)"/>
<circle cx="127" cy="280.9" r="2.8" fill="url(#g_tl)"/>
<circle cx="161.5" cy="266.75" r="2.8" fill="url(#g_tl)"/>
<circle cx="196" cy="246" r="2.8" fill="url(#g_tl)"/>
<line x1="92.5" y1="287.9" x2="92.5" y2="291.1" stroke="#888" stroke-width="0.7" />
<line x1="91.6" y1="287.9" x2="93.4" y2="287.9" stroke="#888" stroke-width="0.7" />
<line x1="91.6" y1="291.1" x2="93.4" y2="291.1" stroke="#888" stroke-width="0.7" />
<line x1="127" y1="278.7" x2="127" y2="283.1" stroke="#888" stroke-width="0.7" />
<line x1="126.1" y1="278.7" x2="127.9" y2="278.7" stroke="#888" stroke-width="0.7" />
<line x1="126.1" y1="283.1" x2="127.9" y2="283.1" stroke="#888" stroke-width="0.7" />
<line x1="161.5" y1="264.15" x2="161.5" y2="269.35" stroke="#888" stroke-width="0.7" />
<line x1="160.6" y1="264.15" x2="162.4" y2="264.15" stroke="#888" stroke-width="0.7" />
<line x1="160.6" y1="269.35" x2="162.4" y2="269.35" stroke="#888" stroke-width="0.7" />
<line x1="196" y1="243" x2="196" y2="249" stroke="#888" stroke-width="0.7" />
<line x1="195.1" y1="243" x2="196.9" y2="243" stroke="#888" stroke-width="0.7" />
<line x1="195.1" y1="249" x2="196.9" y2="249" stroke="#888" stroke-width="0.7" />
<circle cx="58" cy="294.75" r="2.8" fill="url(#g_td)"/>
<circle cx="92.5" cy="288.5" r="2.8" fill="url(#g_td)"/>
<circle cx="127" cy="277.3" r="2.8" fill="url(#g_td)"/>
<circle cx="161.5" cy="258.5" r="2.8" fill="url(#g_td)"/>
<circle cx="196" cy="243" r="2.8" fill="url(#g_td)"/>
<line x1="92.5" y1="286.9" x2="92.5" y2="290.1" stroke="#888" stroke-width="0.7" />
<line x1="91.6" y1="286.9" x2="93.4" y2="286.9" stroke="#888" stroke-width="0.7" />
<line x1="91.6" y1="290.1" x2="93.4" y2="290.1" stroke="#888" stroke-width="0.7" />
<line x1="127" y1="275.1" x2="127" y2="279.5" stroke="#888" stroke-width="0.7" />
<line x1="126.1" y1="275.1" x2="127.9" y2="275.1" stroke="#888" stroke-width="0.7" />
<line x1="126.1" y1="279.5" x2="127.9" y2="279.5" stroke="#888" stroke-width="0.7" />
<line x1="161.5" y1="255.9" x2="161.5" y2="261.1" stroke="#888" stroke-width="0.7" />
<line x1="160.6" y1="255.9" x2="162.4" y2="255.9" stroke="#888" stroke-width="0.7" />
<line x1="160.6" y1="261.1" x2="162.4" y2="261.1" stroke="#888" stroke-width="0.7" />
<line x1="196" y1="240" x2="196" y2="246" stroke="#888" stroke-width="0.7" />
<line x1="195.1" y1="240" x2="196.9" y2="240" stroke="#888" stroke-width="0.7" />
<line x1="195.1" y1="246" x2="196.9" y2="246" stroke="#888" stroke-width="0.7" />
<circle cx="58" cy="264.3" r="3.55" fill="url(#g_td)"/>
<circle cx="92.5" cy="251.5" r="3.55" fill="url(#g_td)"/>
<circle cx="127" cy="231.5" r="3.55" fill="url(#g_td)"/>
<circle cx="161.5" cy="210.25" r="3.55" fill="url(#g_td)"/>
<circle cx="196" cy="184.3" r="3.55" fill="url(#g_td)"/>
<rect x="49.3" y="177.3" width="155.6" height="124.9" fill="none" stroke="#231f20" stroke-width="1.2"/>
<line x1="46.8" y1="302.2" x2="49.3" y2="302.2" stroke="#231f20" stroke-width="1" />
<text x="45.1" y="304.9" font-size="8.2" text-anchor="end" fill="#231f20" stroke="#231f20" stroke-width="0.22" >200</text>
<line x1="46.8" y1="277.1" x2="49.3" y2="277.1" stroke="#231f20" stroke-width="1" />
<text x="45.1" y="279.8" font-size="8.2" text-anchor="end" fill="#231f20" stroke="#231f20" stroke-width="0.22" >400</text>
<line x1="46.8" y1="252" x2="49.3" y2="252" stroke="#231f20" stroke-width="1" />
<text x="45.1" y="254.7" font-size="8.2" text-anchor="end" fill="#231f20" stroke="#231f20" stroke-width="0.22" >600</text>
<line x1="46.8" y1="226.9" x2="49.3" y2="226.9" stroke="#231f20" stroke-width="1" />
<text x="45.1" y="229.6" font-size="8.2" text-anchor="end" fill="#231f20" stroke="#231f20" stroke-width="0.22" >800</text>
<line x1="46.8" y1="201.8" x2="49.3" y2="201.8" stroke="#231f20" stroke-width="1" />
<text x="45.1" y="204.5" font-size="8.2" text-anchor="end" fill="#231f20" stroke="#231f20" stroke-width="0.22" >1000</text>
<line x1="46.8" y1="176.7" x2="49.3" y2="176.7" stroke="#231f20" stroke-width="1" />
<text x="45.1" y="179.4" font-size="8.2" text-anchor="end" fill="#231f20" stroke="#231f20" stroke-width="0.22" >1200</text>
<line x1="58" y1="302.2" x2="58" y2="304.8" stroke="#231f20" stroke-width="1" />
<text x="58" y="313.2" font-size="8.2" text-anchor="middle" fill="#231f20" stroke="#231f20" stroke-width="0.22" >50</text>
<line x1="92.5" y1="302.2" x2="92.5" y2="304.8" stroke="#231f20" stroke-width="1" />
<text x="92.5" y="313.2" font-size="8.2" text-anchor="middle" fill="#231f20" stroke="#231f20" stroke-width="0.22" >100</text>
<line x1="127" y1="302.2" x2="127" y2="304.8" stroke="#231f20" stroke-width="1" />
<text x="127" y="313.2" font-size="8.2" text-anchor="middle" fill="#231f20" stroke="#231f20" stroke-width="0.22" >200</text>
<line x1="161.5" y1="302.2" x2="161.5" y2="304.8" stroke="#231f20" stroke-width="1" />
<text x="161.5" y="313.2" font-size="8.2" text-anchor="middle" fill="#231f20" stroke="#231f20" stroke-width="0.22" >300</text>
<line x1="196" y1="302.2" x2="196" y2="304.8" stroke="#231f20" stroke-width="1" />
<text x="196" y="313.2" font-size="8.2" text-anchor="middle" fill="#231f20" stroke="#231f20" stroke-width="0.22" >400</text>
<text x="127.7" y="326.2" font-size="9.5" text-anchor="middle" fill="#231f20" stroke="#231f20" stroke-width="0.22" >j (mA cm<tspan font-size="6.65" baseline-shift="3.23">-2</tspan>)</text>
<line x1="53" y1="187.6" x2="70.5" y2="187.6" stroke="#3f95a3" stroke-width="1.1" />
<circle cx="61.8" cy="187.6" r="3.3" fill="url(#g_td)"/>
<text x="71.8" y="190.3" font-size="7.5" text-anchor="start" fill="#231f20" stroke="#231f20" stroke-width="0.22" >AEM-CO<tspan font-size="4.80" baseline-shift="-1.95" stroke-width="0.08">2</tspan>R/OER</text>
<text x="6.9" y="239.5" font-size="9.5" text-anchor="middle" fill="#231f20" stroke="#231f20" stroke-width="0.22" transform="rotate(-90 6.9 239.5)" >Electrical energy</text>
<text x="18.6" y="239.5" font-size="9.5" text-anchor="middle" fill="#231f20" stroke="#231f20" stroke-width="0.22" transform="rotate(-90 18.6 239.5)" >consumption (kJ mol<tspan font-size="6.65" baseline-shift="3.23">-1</tspan>)</text>
<text x="12.9" y="168.6" font-size="14.5" text-anchor="start" fill="#2a1d1d" stroke="#2a1d1d" stroke-width="0" >d</text>
<path d="M258.60,287.22 L259.10,285.55 L259.50,285.24 L259.60,284.26 L260.10,284.74 L260.60,284.20 L261.00,283.49 L261.10,284.21 L261.60,283.44 L262.10,284.05 L262.60,283.45 L263.10,283.47 L263.60,283.98 L264.10,284.61 L264.60,283.47 L265.10,283.61 L265.60,284.23 L266.10,284.73 L266.60,284.12 L267.10,283.81 L267.60,284.72 L268.10,283.21 L268.60,284.49 L269.10,283.56 L269.60,283.31 L270.10,283.25 L270.60,283.54 L271.10,284.33 L271.60,283.30 L272.10,283.92 L272.60,283.99 L273.10,283.55 L273.60,283.81 L274.10,283.02 L274.60,282.99 L275.10,283.21 L275.60,283.95 L276.10,283.53 L276.60,283.33 L277.10,283.74 L277.60,283.51 L278.10,283.25 L278.60,284.02 L279.10,283.85 L279.60,283.11 L280.00,283.62 L280.10,283.53 L280.60,284.03 L281.10,283.73 L281.60,282.96 L282.10,284.01 L282.60,282.56 L283.10,282.98 L283.60,283.46 L284.10,282.43 L284.60,282.91 L285.10,282.13 L285.60,283.07 L286.10,283.16 L286.60,282.79 L287.10,283.21 L287.60,282.25 L288.10,282.80 L288.60,282.58 L289.10,282.49 L289.60,282.23 L290.10,282.78 L290.60,282.89 L291.10,282.07 L291.60,282.31 L292.10,281.28 L292.60,282.25 L293.10,282.10 L293.60,282.59 L294.10,282.25 L294.60,281.33 L295.10,281.43 L295.60,281.82 L296.10,280.72 L296.60,281.36 L297.10,280.83 L297.60,280.69 L298.10,280.53 L298.60,281.60 L299.10,280.52 L299.60,280.65 L300.00,280.83 L300.10,281.58 L300.60,280.25 L301.10,280.78 L301.60,280.88 L302.10,281.35 L302.60,281.19 L303.10,281.19 L303.60,280.20 L304.10,280.35 L304.60,280.20 L305.10,280.98 L305.60,281.03 L306.10,279.68 L306.60,279.66 L307.10,279.68 L307.60,279.62 L308.10,279.96 L308.60,280.07 L309.10,279.48 L309.60,279.01 L310.10,279.61 L310.60,279.47 L311.10,279.72 L311.60,280.27 L312.10,279.79 L312.60,279.45 L313.10,279.55 L313.60,279.58 L314.10,278.52 L314.60,279.81 L315.10,279.56 L315.60,279.65 L316.00,279.48 L316.10,278.83 L316.60,278.86 L317.10,278.40 L317.60,279.27 L318.10,278.37 L318.60,278.39 L319.10,278.63 L319.60,278.57 L320.10,278.87 L320.60,278.43 L321.10,278.36 L321.60,278.62 L322.10,278.55 L322.60,278.99 L323.10,278.47 L323.60,279.84 L324.10,279.44 L324.60,278.71 L325.10,278.89 L325.60,279.06 L326.10,279.10 L326.60,278.73 L327.10,279.91 L327.60,280.16 L328.10,279.33 L328.60,279.37 L329.10,278.75 L329.60,278.79 L330.10,279.19 L330.60,279.08 L331.10,280.00 L331.60,278.95 L332.10,278.75 L332.60,280.25 L333.10,279.59 L333.60,278.99 L334.10,279.64 L334.60,278.83 L335.00,279.64 L335.10,280.37 L335.60,280.23 L336.10,279.99 L336.60,279.33 L337.10,279.54 L337.60,279.26 L338.10,280.26 L338.60,279.91 L339.10,280.35 L339.60,279.66 L340.10,279.53 L340.60,280.51 L341.10,280.82 L341.60,280.65 L342.10,280.61 L342.60,280.66 L343.10,280.57 L343.60,279.79 L344.10,280.29 L344.60,280.07 L345.10,279.51 L345.60,279.48 L346.10,279.85 L346.60,279.78 L347.10,280.44 L347.60,280.83 L348.10,279.98 L348.60,280.73 L349.10,280.78 L349.60,280.69 L350.10,279.71 L350.60,279.45 L351.10,279.42 L351.60,279.34 L352.00,279.33 L352.10,279.50 L352.40,278.44 L352.60,278.58 L353.10,278.61 L353.40,279.24 L353.60,286.48 L354.10,285.34 L354.60,286.26 L355.10,286.66 L355.60,286.45 L356.10,286.40 L356.60,285.96 L357.10,285.49 L357.60,286.46 L358.10,285.73 L358.60,286.48 L359.10,286.75 L359.60,285.83 L360.00,281.04 L360.10,282.10 L360.60,281.69 L361.10,280.61 L361.60,280.55 L362.10,280.63 L362.60,282.17 L363.10,282.00 L363.60,280.71 L364.10,282.10 L364.60,282.44 L365.10,281.82 L365.60,281.24 L366.10,281.66 L366.60,280.86 L367.10,280.65 L367.60,282.60 L368.10,281.99 L368.60,281.77 L369.10,282.61 L369.60,281.64 L370.00,282.54 L370.10,282.46 L370.60,281.26 L371.10,281.37 L371.60,281.48 L372.10,281.41 L372.60,282.13 L373.10,281.50 L373.60,281.85 L374.10,281.31 L374.60,282.90 L375.00,281.87 L375.10,282.01 L375.60,282.12 L376.10,282.53 L376.60,281.66 L377.10,282.36 L377.60,281.60 L378.10,281.55 L378.60,281.44 L379.10,280.54 L379.60,281.12 L380.10,280.61 L380.60,280.23 L381.10,281.40 L381.60,280.30 L382.10,280.69 L382.60,280.99 L383.10,280.63 L383.60,280.16 L384.10,280.37 L384.60,280.34 L385.10,280.61 L385.60,279.43 L386.10,280.06 L386.60,279.46 L387.10,279.41 L387.60,280.11 L388.10,279.59 L388.60,279.58 L389.00,279.82 L389.10,280.05 L389.60,279.23 L390.10,279.43 L390.60,279.19 L391.10,279.13 L391.60,279.36 L392.10,278.90 L392.60,278.97 L393.10,278.81 L393.60,279.48 L394.10,279.03 L394.60,279.24 L395.10,279.28 L395.60,278.12 L396.10,278.53 L396.60,279.08 L397.10,278.85 L397.60,277.65 L398.10,277.56 L398.60,278.01 L399.10,277.35 L399.60,277.55 L400.10,277.21 L400.60,278.10 L401.10,278.21 L401.60,278.33 L402.10,277.07 L402.60,277.90 L403.10,277.75 L403.60,276.85 L404.10,277.97 L404.50,278.05 L404.60,276.85 L405.10,277.99 L405.60,277.07 L406.10,277.18 L406.60,277.95 L407.10,277.67 L407.60,276.56 L408.10,276.96 L408.60,277.07 L409.10,276.75 L409.60,276.49 L410.10,276.66 L410.60,277.27 L411.10,276.11 L411.60,276.94 L412.10,276.72 L412.60,276.02 L413.10,276.49 L413.60,276.92 L414.00,276.72 L414.10,276.01 L414.60,277.50 L415.10,277.20 L415.60,277.51 L416.10,276.14 L416.60,276.41 L417.00,276.06 L417.10,277.87 L417.60,280.15 L418.00,282.41 L418.10,282.87 L418.60,283.62 L419.10,283.43 L419.60,282.50 L420.10,282.29 L420.60,283.49 L421.10,282.90 L421.60,283.07 L422.10,282.06 L422.60,281.97 L423.10,282.94 L423.60,282.49 L424.10,281.89 L424.60,283.24 L425.10,282.72 L425.60,282.95 L426.10,281.77 L426.60,282.97 L427.10,281.67 L427.60,282.91 L428.00,282.23 L428.10,282.01 L428.60,282.21 L429.10,282.67 L429.60,281.47 L430.10,281.10 L430.60,281.60 L431.10,280.99 L431.60,280.64 L432.10,280.58 L432.60,280.26 L433.10,280.36 L433.60,280.39 L434.10,280.23 L434.60,280.82 L435.10,279.92 L435.60,280.12 L436.00,279.48 L436.10,279.74 L436.60,279.13 L437.10,279.42 L437.60,278.96 L438.10,280.02 L438.60,279.65 L439.10,278.99 L439.60,279.36 L440.10,280.01 L440.60,278.60 L441.10,279.66 L441.60,278.96 L442.10,278.98 L442.60,279.44 L443.10,278.65 L443.60,278.74 L444.10,278.95 L444.60,279.34 L445.00,278.25 L445.10,279.03 L445.60,278.83 L446.10,278.85 L446.20,278.25 L446.40,282.60 L446.60,281.84 L447.10,282.04 L447.60,281.88 L448.10,283.63 L448.60,282.36 L449.10,282.12 L449.60,281.92 L450.10,283.89 L450.60,283.96 L451.10,283.44 L451.60,282.43 L452.10,282.33 L452.60,282.46 L453.10,282.89 L453.60,282.11 L454.10,282.86 L454.60,282.38 L455.10,284.20 L455.60,284.23 L456.10,283.12 L456.60,282.34 L457.10,284.21 L457.60,282.50 L458.10,282.63 L458.60,281.70 L459.10,282.69 L459.60,282.93 L460.10,283.01 L460.60,282.22 L461.10,283.01 L461.60,281.71 L462.10,282.39 L462.60,281.93 L463.10,282.74 L463.60,281.81 L464.10,281.76 L464.60,282.49 L465.10,282.31 L465.60,283.22 L466.10,283.08 L466.60,283.65 L467.10,283.41 L467.60,283.56 L468.10,283.99 L468.60,282.71 L469.10,282.55 L469.60,284.26 L470.00,282.09 L470.10,283.58 L470.60,283.35 L471.10,281.78 L471.60,283.82 L472.10,283.96 L472.60,283.25 L473.10,283.52 L473.60,283.71 L474.10,281.94 L474.60,282.93 L475.10,282.86 L475.60,283.70 L476.10,283.61 L476.60,283.65 L477.10,283.01 L477.60,283.80 L478.10,283.24 L478.60,283.25 L479.10,282.03 L479.60,281.50 L480.10,281.75 L480.60,282.32 L481.10,281.64 L481.60,283.53 L482.10,282.79 L482.60,282.96 L483.10,282.94 L483.60,283.07 L484.10,282.55 L484.60,281.28 L485.10,283.33 L485.60,283.18 L486.10,282.53 L486.60,282.60 L487.10,282.91 L487.60,281.35 L488.10,283.08 L488.60,281.80 L489.10,281.33 L489.60,281.81 L490.10,283.00 L490.60,281.62 L491.10,283.00 L491.60,283.60 L492.10,282.33 L492.60,282.03 L493.10,282.26 L493.60,282.78 L494.10,282.98 L494.60,282.58 L495.10,282.63 L495.60,281.14 L496.10,281.31 L496.60,281.57 L497.00,282.83 L497.10,281.69 L497.60,282.37 L498.10,280.92 L498.60,281.04 L499.10,281.58 L499.60,282.62 L500.10,282.67 L500.60,282.63 L501.10,281.62 L501.60,282.20 L502.10,282.06 L502.60,282.06 L503.10,281.16 L503.60,283.17 L504.10,281.36 L504.60,283.38 L505.10,282.83 L505.60,281.35 L506.10,282.06 L506.60,282.63 L507.10,282.86 L507.60,282.03 L508.10,281.73 L508.60,281.63 L509.10,282.81 L509.60,281.63 L510.10,282.22 L510.60,281.51 L511.10,282.12 L511.60,282.80 L512.10,281.48 L512.60,282.58 L513.10,282.07 L513.60,282.67 L514.10,282.38 L514.60,281.62 L515.10,282.68 L515.60,282.02 L516.10,281.27 L516.60,281.24 L517.10,282.01 L517.60,281.94 L518.10,281.70 L518.60,281.44 L519.10,281.76 L519.60,281.71 L520.00,282.54 L520.10,281.20 L520.60,282.41 L521.10,282.56 L521.60,281.42 L522.10,282.71 L522.60,282.38 L523.10,282.69 L523.60,281.72 L524.10,281.86 L524.60,281.90 L525.10,282.87 L525.60,282.23 L526.10,281.87 L526.60,281.98 L527.10,281.75 L527.60,281.39 L528.10,281.48 L528.60,282.66 L529.10,281.79 L529.60,282.84 L530.10,281.75 L530.60,281.78 L531.10,282.18 L531.60,281.68 L532.10,281.98 L532.60,282.92 L533.10,282.81 L533.60,282.70 L534.10,282.42 L534.60,282.88 L535.10,282.93 L535.60,282.31 L536.10,282.59 L536.60,281.53 L537.10,282.63 L537.60,282.19 L538.10,282.68 L538.60,282.51 L539.10,281.94 L539.60,281.57 L540.00,282.98 L540.10,281.70 L540.60,282.23 L541.10,282.01 L541.60,281.92 L542.10,282.61 L542.60,282.97 L543.10,281.80 L543.60,282.42 L544.10,281.83 L544.60,282.22 L545.10,281.94 L545.60,281.56 L546.10,281.53 L546.60,281.59 L547.10,282.69 L547.60,282.02 L548.10,281.56 L548.60,282.63 L549.10,282.76 L549.60,281.87 L550.10,281.35 L550.60,281.42 L551.10,281.24 L551.60,281.62 L552.10,281.20 L552.60,281.42 L553.10,281.43 L553.60,281.91 L554.10,282.40 L554.60,282.16 L555.10,281.61 L555.60,281.59 L556.10,281.75 L556.60,281.49 L557.10,281.41 L557.60,280.95 L558.10,281.28 L558.60,282.37 L559.10,281.00 L559.60,281.59 L560.10,281.77 L560.60,282.13 L561.10,281.07 L561.60,281.14 L562.10,281.09 L562.60,281.31 L563.10,281.37 L563.60,282.16 L564.10,281.97 L564.60,281.99 L565.10,280.61 L565.60,280.61 L566.10,281.68 L566.60,281.96 L567.10,281.26 L567.60,281.43 L568.10,280.47 L568.60,281.08 L569.10,281.92 L569.60,281.74 L570.00,281.77 L570.10,281.95 L570.60,280.78 L571.10,280.54 L571.60,280.60 L572.10,281.17 L572.60,281.41 L573.10,281.81 L573.60,281.45 L574.10,281.31 L574.60,281.49 L575.10,280.98 L575.60,281.11 L576.10,280.28 L576.60,281.45 L577.10,280.56 L577.60,281.64 L578.10,281.19 L578.60,280.63 L579.10,280.33 L579.60,280.51 L580.10,281.12 L580.60,281.20 L581.10,280.25 L581.60,280.16 L582.10,280.88 L582.60,280.95 L583.10,280.63 L583.60,280.35 L584.10,280.94 L584.60,279.98 L585.10,280.43 L585.60,280.67 L586.10,281.45 L586.60,280.93 L587.10,281.30 L587.60,280.63 L588.10,280.23 L588.60,280.24 L589.10,281.36 L589.60,280.94 L590.00,280.29 L590.10,279.84 L590.60,280.62 L591.10,280.92 L591.60,280.53 L592.10,280.29 L592.60,280.96 L593.10,281.39 L593.60,280.29 L594.10,280.00 L594.60,280.50 L595.10,280.65 L595.60,281.09 L596.10,280.33 L596.60,281.31 L597.10,281.23 L597.60,280.87 L598.10,280.41 L598.60,281.65 L599.10,280.62 L599.60,281.45 L600.10,280.52 L600.60,280.53 L601.10,281.41 L601.60,280.68 L602.10,281.75 L602.60,281.03 L603.10,280.56 L603.60,280.63 L604.10,280.96 L604.60,281.38 L605.10,281.85 L605.60,280.58 L606.10,280.99 L606.60,280.72 L607.10,281.96 L607.60,280.64 L608.10,280.52 L608.60,280.55 L609.10,281.10 L609.60,281.92 L610.00,281.91 L610.10,281.67 L610.60,282.09 L611.10,281.98 L611.60,281.01 L612.10,280.78 L612.60,281.97 L613.10,281.66 L613.60,280.51 L614.10,281.52 L614.60,281.06 L615.10,281.05 L615.60,280.97 L616.10,280.71 L616.60,280.44 L617.10,280.87 L617.60,280.98 L618.10,281.95 L618.60,280.61 L619.10,281.95 L619.60,280.73 L620.10,280.97 L620.60,281.71 L621.10,281.70 L621.60,281.07 L622.10,280.45 L622.60,281.13 L623.10,280.96 L623.60,281.83 L624.10,280.66 L624.60,280.93 L625.10,281.78 L625.60,280.39 L626.10,280.99 L626.60,281.63 L627.10,281.55 L627.60,280.38 L628.10,280.37 L628.60,280.41 L629.10,281.78 L629.50,280.71 L629.60,281.30 L630.10,280.54 L630.30,279.24 L630.60,280.04 L630.80,281.73" fill="none" stroke="#7c7c7c" stroke-width="2.2" stroke-linejoin="round"/>
<line x1="299.9" y1="281.01" x2="299.9" y2="289.6" stroke="#7c7c7c" stroke-width="1.2" />
<line x1="314.9" y1="279.14" x2="314.9" y2="286" stroke="#7c7c7c" stroke-width="1.2" />
<line x1="333.4" y1="279.55" x2="333.4" y2="286.6" stroke="#7c7c7c" stroke-width="1.2" />
<line x1="369.7" y1="281.78" x2="369.7" y2="286" stroke="#7c7c7c" stroke-width="1.2" />
<line x1="413.4" y1="276.74" x2="413.4" y2="280" stroke="#7c7c7c" stroke-width="1.2" />
<line x1="503.6" y1="282.14" x2="503.6" y2="286.6" stroke="#7c7c7c" stroke-width="1.2" />
<line x1="290" y1="282.25" x2="290" y2="285" stroke="#7c7c7c" stroke-width="1.2" />
<line x1="325" y1="279.28" x2="325" y2="283" stroke="#7c7c7c" stroke-width="1.2" />
<line x1="395" y1="278.59" x2="395" y2="281.5" stroke="#7c7c7c" stroke-width="1.2" />
<line x1="520" y1="282" x2="520" y2="284" stroke="#7c7c7c" stroke-width="1.2" />
<line x1="600" y1="280.95" x2="600" y2="283" stroke="#7c7c7c" stroke-width="1.2" />
<line x1="465" y1="283" x2="465" y2="285" stroke="#7c7c7c" stroke-width="1.2" />
<g>
<rect x="539" y="213" width="54.7" height="54.1" fill="#3a3d3a" />
<rect x="541" y="215" width="50.7" height="50.1" fill="#414441" />
<rect x="544.6" y="218.50" width="42" height="4.6" rx="2.3" fill="#2b2e2b" stroke="#6a6d6a" stroke-width="1"/>
<rect x="544.6" y="226.30" width="42" height="4.6" rx="2.3" fill="#2b2e2b" stroke="#6a6d6a" stroke-width="1"/>
<rect x="544.6" y="234.00" width="42" height="4.6" rx="2.3" fill="#2b2e2b" stroke="#6a6d6a" stroke-width="1"/>
<rect x="544.6" y="241.80" width="42" height="4.6" rx="2.3" fill="#2b2e2b" stroke="#6a6d6a" stroke-width="1"/>
<rect x="544.6" y="249.30" width="42" height="4.6" rx="2.3" fill="#2b2e2b" stroke="#6a6d6a" stroke-width="1"/>
<rect x="544.6" y="256.30" width="42" height="4.6" rx="2.3" fill="#2b2e2b" stroke="#6a6d6a" stroke-width="1"/>
<circle cx="585.4" cy="217.9" r="1.3" fill="#0c0c0c"/>
<circle cx="544.4" cy="258.8" r="1.3" fill="#0c0c0c"/>
<path d="M551,232.5 L566,231.8 M569,231 L582,231.6" stroke="#8a8d8a" stroke-width="0.8" opacity="0.8"/>
<path d="M541.8,240 L541.8,262" stroke="#5a5d5a" stroke-width="0.6" opacity="0.8"/>
</g>
<rect x="258.3" y="177.6" width="380" height="124" fill="none" stroke="#231f20" stroke-width="1.2"/>
<circle cx="262.55" cy="211.7" r="4.3" fill="url(#g_er)"/>
<circle cx="275.7" cy="211.1" r="4.3" fill="url(#g_er)"/>
<circle cx="291.3" cy="210.4" r="4.3" fill="url(#g_er)"/>
<circle cx="305.5" cy="211.6" r="4.3" fill="url(#g_er)"/>
<circle cx="320" cy="209.8" r="4.3" fill="url(#g_er)"/>
<circle cx="332.85" cy="210.5" r="4.3" fill="url(#g_er)"/>
<circle cx="348.1" cy="210" r="4.3" fill="url(#g_er)"/>
<circle cx="364.9" cy="211.5" r="4.3" fill="url(#g_er)"/>
<circle cx="376.8" cy="211.5" r="4.3" fill="url(#g_er)"/>
<circle cx="390.1" cy="210.8" r="4.3" fill="url(#g_er)"/>
<circle cx="404.3" cy="209.4" r="4.3" fill="url(#g_er)"/>
<circle cx="417" cy="210" r="4.3" fill="url(#g_er)"/>
<circle cx="424.6" cy="207.9" r="4.3" fill="url(#g_er)"/>
<circle cx="431.8" cy="206.4" r="4.3" fill="url(#g_er)"/>
<circle cx="445.9" cy="205.5" r="4.3" fill="url(#g_er)"/>
<circle cx="459.9" cy="207.9" r="4.3" fill="url(#g_er)"/>
<circle cx="467.3" cy="205.8" r="4.3" fill="url(#g_er)"/>
<circle cx="486.2" cy="205" r="4.3" fill="url(#g_er)"/>
<circle cx="502.9" cy="203.8" r="4.3" fill="url(#g_er)"/>
<circle cx="520.8" cy="201.6" r="4.3" fill="url(#g_er)"/>
<circle cx="539.7" cy="201.6" r="4.3" fill="url(#g_er)"/>
<circle cx="551.7" cy="199.8" r="4.3" fill="url(#g_er)"/>
<circle cx="570.4" cy="199.6" r="4.3" fill="url(#g_er)"/>
<circle cx="589.8" cy="200.9" r="4.3" fill="url(#g_er)"/>
<circle cx="605.1" cy="197" r="4.3" fill="url(#g_er)"/>
<circle cx="617.1" cy="191.6" r="4.3" fill="url(#g_er)"/>
<circle cx="630" cy="194.6" r="4.3" fill="url(#g_er)"/>
<line x1="255.8" y1="301.6" x2="258.3" y2="301.6" stroke="#231f20" stroke-width="1" />
<text x="253.8" y="304.3" font-size="8.2" text-anchor="end" fill="#231f20" stroke="#231f20" stroke-width="0.22" >2.0</text>
<line x1="255.8" y1="262.94" x2="258.3" y2="262.94" stroke="#231f20" stroke-width="1" />
<text x="253.8" y="265.63" font-size="8.2" text-anchor="end" fill="#231f20" stroke="#231f20" stroke-width="0.22" >2.5</text>
<line x1="255.8" y1="224.27" x2="258.3" y2="224.27" stroke="#231f20" stroke-width="1" />
<text x="253.8" y="226.97" font-size="8.2" text-anchor="end" fill="#231f20" stroke="#231f20" stroke-width="0.22" >3.0</text>
<line x1="255.8" y1="185.61" x2="258.3" y2="185.61" stroke="#231f20" stroke-width="1" />
<text x="253.8" y="188.31" font-size="8.2" text-anchor="end" fill="#231f20" stroke="#231f20" stroke-width="0.22" >3.5</text>
<line x1="638.3" y1="301.6" x2="640.8" y2="301.6" stroke="#231f20" stroke-width="1" />
<text x="642.5" y="304.3" font-size="8.2" text-anchor="start" fill="#231f20" stroke="#231f20" stroke-width="0.22" >0</text>
<line x1="638.3" y1="266.32" x2="640.8" y2="266.32" stroke="#231f20" stroke-width="1" />
<text x="642.5" y="269.02" font-size="8.2" text-anchor="start" fill="#231f20" stroke="#231f20" stroke-width="0.22" >100</text>
<line x1="638.3" y1="231.04" x2="640.8" y2="231.04" stroke="#231f20" stroke-width="1" />
<text x="642.5" y="233.74" font-size="8.2" text-anchor="start" fill="#231f20" stroke="#231f20" stroke-width="0.22" >200</text>
<line x1="638.3" y1="195.76" x2="640.8" y2="195.76" stroke="#231f20" stroke-width="1" />
<text x="642.5" y="198.46" font-size="8.2" text-anchor="start" fill="#231f20" stroke="#231f20" stroke-width="0.22" >300</text>
<line x1="258.3" y1="301.6" x2="258.3" y2="304.2" stroke="#231f20" stroke-width="1" />
<text x="258.3" y="312.8" font-size="8.2" text-anchor="middle" fill="#231f20" stroke="#231f20" stroke-width="0.22" >0</text>
<line x1="317.8" y1="301.6" x2="317.8" y2="304.2" stroke="#231f20" stroke-width="1" />
<text x="317.8" y="312.8" font-size="8.2" text-anchor="middle" fill="#231f20" stroke="#231f20" stroke-width="0.22" >50</text>
<line x1="377.3" y1="301.6" x2="377.3" y2="304.2" stroke="#231f20" stroke-width="1" />
<text x="377.3" y="312.8" font-size="8.2" text-anchor="middle" fill="#231f20" stroke="#231f20" stroke-width="0.22" >100</text>
<line x1="436.8" y1="301.6" x2="436.8" y2="304.2" stroke="#231f20" stroke-width="1" />
<text x="436.8" y="312.8" font-size="8.2" text-anchor="middle" fill="#231f20" stroke="#231f20" stroke-width="0.22" >150</text>
<line x1="496.3" y1="301.6" x2="496.3" y2="304.2" stroke="#231f20" stroke-width="1" />
<text x="496.3" y="312.8" font-size="8.2" text-anchor="middle" fill="#231f20" stroke="#231f20" stroke-width="0.22" >200</text>
<line x1="555.8" y1="301.6" x2="555.8" y2="304.2" stroke="#231f20" stroke-width="1" />
<text x="555.8" y="312.8" font-size="8.2" text-anchor="middle" fill="#231f20" stroke="#231f20" stroke-width="0.22" >250</text>
<line x1="615.3" y1="301.6" x2="615.3" y2="304.2" stroke="#231f20" stroke-width="1" />
<text x="615.3" y="312.8" font-size="8.2" text-anchor="middle" fill="#231f20" stroke="#231f20" stroke-width="0.22" >300</text>
<text x="448" y="323.5" font-size="9.5" text-anchor="middle" fill="#231f20" stroke="#231f20" stroke-width="0.22" >Time (h)</text>
<text x="236.6" y="240" font-size="9.5" text-anchor="middle" fill="#231f20" stroke="#231f20" stroke-width="0.22" transform="rotate(-90 236.6 240)" >Cell voltage (V)</text>
<text x="664.5" y="239.5" font-size="9.5" text-anchor="middle" fill="#231f20" stroke="#231f20" stroke-width="0.22" transform="rotate(90 664.5 239.5)" >consumption (kJ mol<tspan font-size="6.65" baseline-shift="3.23">-1</tspan>)</text>
<text x="677.9" y="239.5" font-size="9.5" text-anchor="middle" fill="#231f20" stroke="#231f20" stroke-width="0.22" transform="rotate(90 677.9 239.5)" >Electrical energy</text>
<text x="266" y="192.4" font-size="9.2" text-anchor="start" fill="#cf867d" stroke="#cf867d" stroke-width="0" >0.813 kJ mol<tspan font-size="6.44" baseline-shift="3.13">-1</tspan> h<tspan font-size="6.44" baseline-shift="3.13">-1</tspan></text>
<text x="220.5" y="168.5" font-size="14.5" text-anchor="start" fill="#2a1d1d" stroke="#2a1d1d" stroke-width="0" >e</text></svg>
</body></html>
